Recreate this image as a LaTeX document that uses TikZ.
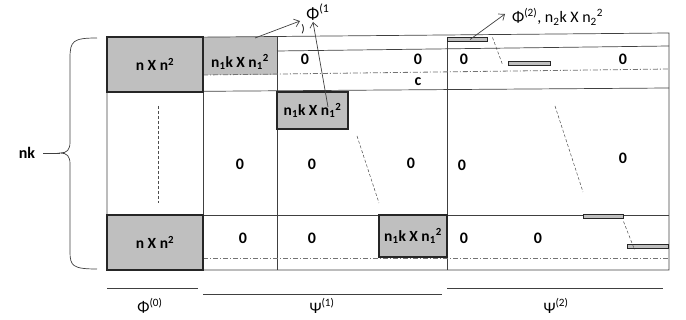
\documentclass[tikz,border=0pt]{standalone}
\usepackage{fontspec}
\setmainfont{Carlito}
\usetikzlibrary{arrows.meta}
\begin{document}
\begin{tikzpicture}[x=1pt,y=-1pt]
  \tikzstyle{lbl}=[inner sep=0pt, font=\fontsize{16}{18}\selectfont]
  \tikzstyle{zero}=[lbl, font=\fontsize{16}{18}\selectfont\bfseries]
  \tikzstyle{blk}=[draw=black!85, fill=gray!50, line width=1.3pt, inner sep=0pt,
    font=\fontsize{15.5}{18}\selectfont\bfseries]
  \tikzstyle{bar}=[draw=black!85, fill=gray!50, line width=1pt, inner sep=0pt,
    minimum height=4, minimum width=40]
  \tikzstyle{grid}=[black!75, line width=0.7pt]
  \tikzstyle{dd}=[black!55, line width=0.8pt, dash pattern=on 5pt off 2pt on 1pt off 2pt]
  \tikzstyle{dsh}=[black!70, line width=0.5pt, densely dashed]
  \tikzstyle{arr}=[black!75, line width=0.7pt, -{Straight Barb[length=5pt,width=8pt]}]
  \useasboundingbox (0,0) rectangle (686,320);
  % shaded block of Psi(1), no frame of its own
  \fill[gray!50] (203,37.5) rectangle (277,75);
  % frame and grid
  \draw[grid] (107,38) -- (669,33) -- (669,270) -- (107,270) -- cycle;
  \draw[grid] (277,51) -- (669,46);
  \draw[grid] (107,92) -- (669,88);
  \draw[grid] (107,215) -- (669,215);
  \foreach \x in {203,277,447}
    \draw[grid] (\x,37) -- (\x,270);
  \draw[dd] (203,75) -- (669,69);
  \draw[dd] (203,258) -- (669,258);
  % blocks
  \node[blk, line width=1.8pt, minimum width=96, minimum height=55]
    (p0a) at (155,64.5) {n X n\textsuperscript{2}};
  \node[blk, line width=1.8pt, minimum width=96, minimum height=55]
    (p0b) at (155,242.5) {n X n\textsuperscript{2}};
  \node[lbl, font=\fontsize{15.5}{18}\selectfont\bfseries]
    (b1) at (240,62) {n\textsubscript{1}k X n\textsubscript{1}\textsuperscript{2}};
  \node[blk, minimum width=71, minimum height=37]
    (b2) at (312.5,110.5) {n\textsubscript{1}k X n\textsubscript{1}\textsuperscript{2}};
  \node[blk, minimum width=68, minimum height=42]
    (b3) at (413,236) {n\textsubscript{1}k X n\textsubscript{1}\textsuperscript{2}};
  \node[bar] (r1) at (467,40) {};
  \node[bar, minimum width=42] (r2) at (529,64) {};
  \node[bar] (r3) at (603,217) {};
  \node[bar, minimum width=41] (r4) at (647.5,247) {};
  % dotted continuations
  \draw[dsh] (158,106) -- (158,203);
  \draw[dsh] (357,136) -- (379,203);
  \draw[dsh] (555,106) -- (583,192);
  \draw[dsh] ([xshift=5,yshift=5]r1.south east) -- ([xshift=-5,yshift=-3]r2.north west);
  \draw[dsh] ([yshift=-2]r3.south east) -- ([xshift=8,yshift=-5]r4.north west);
  % zeros
  \foreach \x/\y [count=\i] in {305/59,418/59,464/59,623/59,
      240/164,312/164,411/163,462/165,623/158,
      243/238,312/238,464/238,538/238}
    \node[zero] (z\i) at (\x,\y) {0};
  \node[zero] (c) at (418,82) {c};
  % labels on top
  \node[lbl, font=\fontsize{17}{18}\selectfont] (phi1) at (318,12) {Φ\textsuperscript{(1}};
  \node[lbl, font=\fontsize{11}{12}\selectfont] (par) at (303,29) {)};
  \coordinate (a1) at (255,38);
  \coordinate (a2) at (328,107);
  \coordinate (e1) at (300,21);
  \coordinate (e2) at (313,22);
  \draw[arr] (a1) -- (e1);
  \draw[arr] (a2) -- (e2);
  \node[lbl, anchor=west] (phi2) at (512,17)
    {Φ\textsuperscript{(2)}, n\textsubscript{2}k X n\textsubscript{2}\textsuperscript{2}};
  \draw[arr] ([xshift=3,yshift=-2]r1.north) -- ([xshift=-7,yshift=3]phi2.west);
  % brace
  \node[lbl, font=\fontsize{16}{18}\selectfont\bfseries] (nk) at (27,153) {nk};
  \coordinate (tip) at (60,153);
  \draw[grid] (97,38) .. controls (73,38) and (70,41) .. (70,58) -- (70,142)
    .. controls (70,150) and (67,153) .. (tip)
    .. controls (67,153) and (70,156) .. (70,164) -- (70,252)
    .. controls (70,266) and (73,269) .. (97,269);
  \draw[grid] ([xshift=8]nk.east) -- (tip);
  % column captions
  \draw[grid] (107,288) -- (198,288);
  \draw[grid] (203,294) -- (442,294);
  \draw[grid] (447,288) -- (663,288);
  \node[lbl] (c0) at (150,306) {Φ\textsuperscript{(0)}};
  \node[lbl] (c1) at (322,306) {Ψ\textsuperscript{(1)}};
  \node[lbl] (c2) at (556,306) {Ψ\textsuperscript{(2)}};
\end{tikzpicture}
\end{document}
